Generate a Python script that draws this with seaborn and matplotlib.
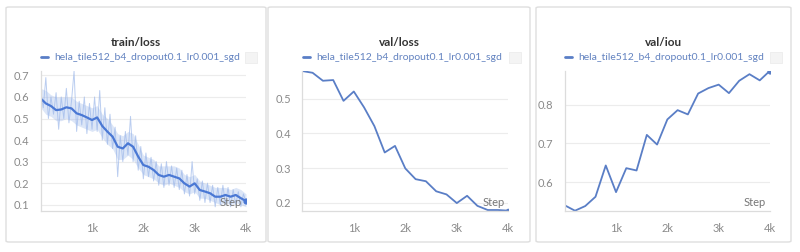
import numpy as np
import pandas as pd
import matplotlib
matplotlib.use("Agg")
import matplotlib.pyplot as plt
import seaborn as sns
from matplotlib.patches import FancyBboxPatch, Rectangle
from matplotlib.lines import Line2D

sns.set_theme(style="white")
plt.rcParams['font.family'] = ['Lato', 'DejaVu Sans']

RUN = "hela_tile512_b4_dropout0.1_lr0.001_sgd"

# ---- data ----
train_smooth_steps = list(range(0, 4001, 100))
train_smooth = [0.593, 0.570, 0.558, 0.539, 0.542, 0.552, 0.547, 0.524, 0.516, 0.505,
                0.493, 0.505, 0.465, 0.439, 0.416, 0.369, 0.361, 0.385, 0.369, 0.323,
                0.284, 0.276, 0.261, 0.238, 0.230, 0.238, 0.230, 0.222, 0.199, 0.184,
                0.199, 0.168, 0.161, 0.153, 0.137, 0.137, 0.145, 0.137, 0.145, 0.130,
                0.117]
train_upper = [0.64, 0.63, 0.61, 0.60, 0.60, 0.60, 0.60, 0.58, 0.57, 0.56,
               0.55, 0.56, 0.52, 0.50, 0.47, 0.43, 0.42, 0.44, 0.43, 0.38,
               0.33, 0.32, 0.31, 0.28, 0.28, 0.28, 0.28, 0.27, 0.24, 0.23,
               0.24, 0.21, 0.20, 0.19, 0.18, 0.18, 0.18, 0.17, 0.18, 0.17,
               0.15]
train_lower = [0.55, 0.52, 0.51, 0.49, 0.49, 0.50, 0.49, 0.47, 0.46, 0.45,
               0.44, 0.45, 0.41, 0.38, 0.36, 0.31, 0.31, 0.33, 0.31, 0.27,
               0.24, 0.23, 0.22, 0.20, 0.19, 0.20, 0.19, 0.18, 0.16, 0.15,
               0.16, 0.13, 0.13, 0.12, 0.11, 0.10, 0.11, 0.10, 0.11, 0.10,
               0.09]
train_raw_steps = list(range(0, 4001, 50))
train_raw = [0.62, 0.55, 0.69, 0.50, 0.60, 0.52, 0.62, 0.45, 0.60, 0.50,
             0.64, 0.48, 0.58, 0.72, 0.44, 0.58, 0.47, 0.60, 0.43, 0.57,
             0.45, 0.60, 0.44, 0.63, 0.40, 0.55, 0.38, 0.52, 0.36, 0.46,
             0.23, 0.42, 0.30, 0.44, 0.33, 0.51, 0.30, 0.42, 0.26, 0.37,
             0.22, 0.34, 0.23, 0.32, 0.21, 0.30, 0.19, 0.29, 0.18, 0.30,
             0.19, 0.28, 0.18, 0.27, 0.17, 0.26, 0.15, 0.24, 0.14, 0.30,
             0.15, 0.22, 0.12, 0.21, 0.11, 0.20, 0.11, 0.19, 0.09, 0.18,
             0.10, 0.19, 0.10, 0.18, 0.09, 0.17, 0.10, 0.16, 0.09, 0.15,
             0.11]

val_steps = list(range(0, 4001, 200))
val_loss = [0.580, 0.575, 0.552, 0.554, 0.494, 0.521, 0.475, 0.421, 0.345, 0.364,
            0.299, 0.268, 0.262, 0.233, 0.224, 0.199, 0.220, 0.191, 0.179, 0.179,
            0.177]
val_iou = [0.540, 0.526, 0.538, 0.562, 0.643, 0.574, 0.636, 0.630, 0.722, 0.697,
           0.762, 0.786, 0.775, 0.829, 0.843, 0.852, 0.830, 0.862, 0.879, 0.863,
           0.888]

titles = ["train/loss", "val/loss", "val/iou"]
x_ticks = [1000, 2000, 3000, 4000]
x_ticklabels = ["1k", "2k", "3k", "4k"]
y_ticks = [[0.1, 0.2, 0.3, 0.4, 0.5, 0.6, 0.7], [0.2, 0.3, 0.4, 0.5], [0.6, 0.7, 0.8]]
y_lims = [(0.072, 0.722), (0.177, 0.581), (0.526, 0.888)]

# ---- layout ----
W, H = 800, 252
fig = plt.figure(figsize=(8, 2.52), dpi=100)
fig.patch.set_facecolor("white")

panels = [(6, 266), (268, 530), (536, 791)]
legend_x = [41, 303, 565]
axes_x = [(40.7, 246.0), (302.3, 508.3), (564.7, 770.0)]
ax_top, ax_bot = 70.7, 210.7

LINE = "#5a7ec6"
TRAIN = "#4a78d4"
RAW = "#9db8ea"
TICKC = "#8a8a8a"
GRID = "#ececec"
SPINE = "#dcdcdc"

for i, (p0, p1) in enumerate(panels):
    box = FancyBboxPatch((p0 / W, 1 - 242 / H), (p1 - p0) / W, (242 - 7) / H,
                         boxstyle="round,pad=0,rounding_size=0.004",
                         transform=fig.transFigure, facecolor="none",
                         edgecolor="#dedede", lw=1.0, zorder=-1)
    fig.patches.append(box)

axes = []
for i, (x0, x1) in enumerate(axes_x):
    ax = fig.add_axes([x0 / W, 1 - ax_bot / H, (x1 - x0) / W, (ax_bot - ax_top) / H])
    ax.set_facecolor("none")
    axes.append(ax)

# train/loss
ax = axes[0]
df_raw = pd.DataFrame({"step": train_raw_steps, "value": train_raw})
df_sm = pd.DataFrame({"step": train_smooth_steps, "value": train_smooth})
ax.fill_between(train_smooth_steps, train_lower, train_upper, color=RAW,
                alpha=0.35, lw=0)
sns.lineplot(data=df_raw, x="step", y="value", ax=ax, color=RAW, lw=0.7, alpha=0.7)
sns.lineplot(data=df_sm, x="step", y="value", ax=ax, color=TRAIN, lw=1.6)
ax.plot(train_smooth_steps[-1], train_smooth[-1], "o", color=TRAIN, ms=3.5)

# val/loss
ax = axes[1]
df = pd.DataFrame({"step": val_steps, "value": val_loss})
sns.lineplot(data=df, x="step", y="value", ax=ax, color=LINE, lw=1.3)
ax.plot(val_steps[-1], val_loss[-1], "o", color=LINE, ms=3)

# val/iou
ax = axes[2]
df = pd.DataFrame({"step": val_steps, "value": val_iou})
sns.lineplot(data=df, x="step", y="value", ax=ax, color=LINE, lw=1.3)
ax.plot(val_steps[-1], val_iou[-1], "o", color=LINE, ms=3.5)

for i, ax in enumerate(axes):
    ax.set_xlim(0, 4000)
    ax.set_ylim(*y_lims[i])
    ax.set_xticks(x_ticks)
    ax.set_xticklabels(x_ticklabels)
    ax.set_yticks(y_ticks[i])
    ax.set_yticklabels([f"{v:g}" for v in y_ticks[i]])
    ax.set_xlabel("")
    ax.set_ylabel("")
    ax.tick_params(axis="x", length=5, direction="inout", color=SPINE, width=0.8,
                   labelsize=8, labelcolor=TICKC, pad=6)
    ax.tick_params(axis="y", length=0, labelsize=8, labelcolor=TICKC, pad=8)
    ax.grid(axis="y", color=GRID, lw=0.8)
    ax.set_axisbelow(True)
    for s in ["top", "right"]:
        ax.spines[s].set_visible(False)
    for s in ["left", "bottom"]:
        ax.spines[s].set_color(SPINE)
        ax.spines[s].set_linewidth(0.9)
    ax.text(0.927, 0.055, "Step", transform=ax.transAxes, ha="center", va="center",
            fontsize=8, color="#777777")

    p0, p1 = panels[i]
    cx = (p0 + p1) / 2
    fig.text(cx / W, 1 - 42 / H, titles[i], ha="center", va="center",
             fontsize=8.5, fontweight="bold", color="#333333")
    handle = Line2D([], [], color=LINE, lw=2)
    leg = ax.legend([handle], [RUN], loc="center left",
                    bbox_to_anchor=(legend_x[i] / W, 1 - 57.5 / H),
                    bbox_transform=fig.transFigure, frameon=False,
                    fontsize=7.5, handlelength=0.7, handletextpad=0.6,
                    borderpad=0, borderaxespad=0)
    for t in leg.get_texts():
        t.set_color("#6282c0")
    sq = Rectangle(((p1 - 21) / W, 1 - 63 / H), 12 / W, 11 / H,
                   transform=fig.transFigure, facecolor="#f4f4f4",
                   edgecolor="#ececec", lw=0.6)
    fig.patches.append(sq)

fig.savefig("out.png", dpi=100, facecolor="white")
